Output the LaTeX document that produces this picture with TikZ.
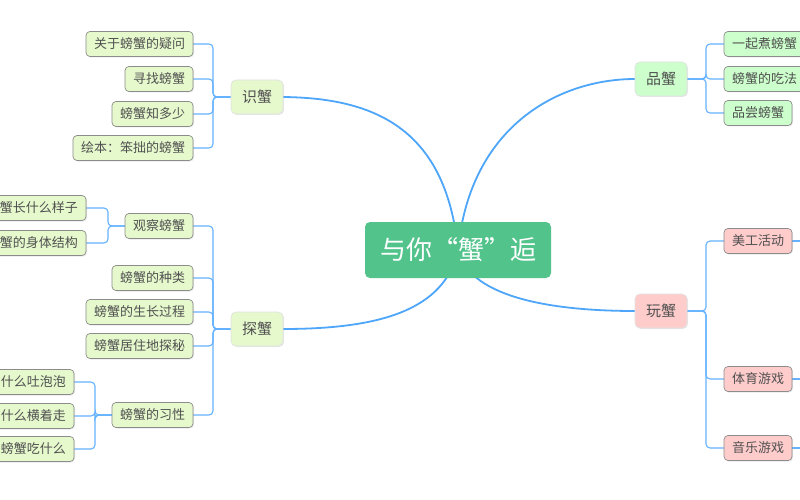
\documentclass[tikz,border=0pt]{standalone}
\usepackage{fontspec}
\setmainfont{Noto Sans CJK SC}
\usetikzlibrary{shadows,calc}
\definecolor{mainc}{RGB}{82,195,139}
\definecolor{leafg}{RGB}{230,249,205}
\definecolor{leafp}{RGB}{204,255,204}
\definecolor{leafr}{RGB}{255,204,204}
\definecolor{linec}{RGB}{77,166,250}
\definecolor{brc}{RGB}{100,178,255}
\definecolor{txt}{RGB}{80,80,80}
\definecolor{bord}{RGB}{140,140,140}
\pgfdeclarelayer{background}
\pgfsetlayers{background,main}
\begin{document}
\begin{tikzpicture}[x=1pt,y=-1pt,
  shd/.style={drop shadow={opacity=0.18,shadow xshift=1pt,shadow yshift=-1pt}},
  leaf/.style={rectangle,rounded corners=4pt,draw=bord,line width=0.7pt,fill=leafg,
    minimum height=25pt,inner xsep=8pt,inner ysep=0pt,outer sep=0pt,text=txt,
    font=\fontsize{13}{15}\selectfont,shd},
  leafP/.style={leaf,fill=leafp},
  leafR/.style={leaf,fill=leafr},
  branch/.style={rectangle,rounded corners=5pt,draw=black!12,line width=0.6pt,fill=leafg,
    minimum height=34pt,minimum width=52pt,inner sep=0pt,outer sep=0pt,text=txt,
    font=\fontsize{15}{18}\selectfont,shd},
  root/.style={rectangle,rounded corners=5pt,fill=mainc,minimum width=186pt,minimum height=56pt,
    inner sep=0pt,outer sep=0pt,text=white,font=\fontsize{26}{30}\selectfont},
  mline/.style={draw=linec,line width=1.8pt},
  br/.style={draw=brc,line width=1.1pt,rounded corners=4pt}
]
\clip (0,0) rectangle (800,500);

% root
\node[root] (c) at (458,250) {与你“蟹”逅};

% branches
\node[branch] (b1) at (257,97) {识蟹};
\node[branch] (b2) at (257,329) {探蟹};
\node[branch,fill=leafp] (b3) at (661,79) {品蟹};
\node[branch,fill=leafr] (b4) at (661,311) {玩蟹};

% 识蟹 children
\node[leaf,anchor=east] (a1) at (193,44) {关于螃蟹的疑问};
\node[leaf,anchor=east] (a2) at (193,79) {寻找螃蟹};
\node[leaf,anchor=east] (a3) at (193,114) {螃蟹知多少};
\node[leaf,anchor=east] (a4) at (193,148) {绘本：笨拙的螃蟹};

% 探蟹 children
\node[leaf,anchor=east] (t1) at (193,226) {观察螃蟹};
\node[leaf,anchor=east] (t2) at (193,278) {螃蟹的种类};
\node[leaf,anchor=east] (t3) at (193,312) {螃蟹的生长过程};
\node[leaf,anchor=east] (t4) at (193,346) {螃蟹居住地探秘};
\node[leaf,anchor=east] (t5) at (193,415) {螃蟹的习性};

\node[leaf,anchor=east] (o1) at (86,208) {螃蟹长什么样子};
\node[leaf,anchor=east] (o2) at (86,243) {螃蟹的身体结构};

\node[leaf,anchor=east] (h1) at (74,382) {螃蟹为什么吐泡泡};
\node[leaf,anchor=east] (h2) at (74,416) {螃蟹为什么横着走};
\node[leaf,anchor=east] (h3) at (74,449) {螃蟹吃什么};

% 品蟹 children
\node[leafP,anchor=west] (p1) at (724,44) {一起煮螃蟹};
\node[leafP,anchor=west] (p2) at (724,79) {螃蟹的吃法};
\node[leafP,anchor=west] (p3) at (724,113) {品尝螃蟹};

% 玩蟹 children
\node[leafR,anchor=west] (w1) at (724,241) {美工活动};
\node[leafR,anchor=west] (w2) at (724,379) {体育游戏};
\node[leafR,anchor=west] (w3) at (724,448) {音乐游戏};

\coordinate (e1) at (800,241);
\coordinate (e2) at (800,379);
\coordinate (e3) at (800,448);

\begin{pgfonlayer}{background}
  \fill[white] (0,0) rectangle (800,500);
  % main curves
  \draw[mline] (c.center) .. controls (446,125) and (370,98) .. (b1.east);
  \draw[mline] (c.center) .. controls (470,125) and (560,79) .. (b3.west);
  \draw[mline] (c.center) .. controls (445,310) and (380,329) .. (b2.east);
  \draw[mline] (c.center) .. controls (470,300) and (560,311) .. (b4.west);

  % brackets
  \foreach \n in {a1,a2,a3,a4}
    \draw[br] (b1.west) -- ++(-18,0) |- (\n.east);
  \foreach \n in {t1,t2,t3,t4,t5}
    \draw[br] (b2.west) -- ++(-18,0) |- (\n.east);
  \foreach \n in {o1,o2}
    \draw[br] (t1.west) -- ++(-17,0) |- (\n.east);
  \foreach \n in {h1,h2,h3}
    \draw[br] (t5.west) -- ++(-17,0) |- (\n.east);
  \foreach \n in {p1,p2,p3}
    \draw[br] (b3.east) -- ++(19,0) |- (\n.west);
  \foreach \n in {w1,w2,w3}
    \draw[br] (b4.east) -- ++(19,0) |- (\n.west);
  \draw[br] (w1.east) -- (e1);
  \draw[br] (w2.east) -- (e2);
  \draw[br] (w3.east) -- (e3);
\end{pgfonlayer}
\end{tikzpicture}
\end{document}
